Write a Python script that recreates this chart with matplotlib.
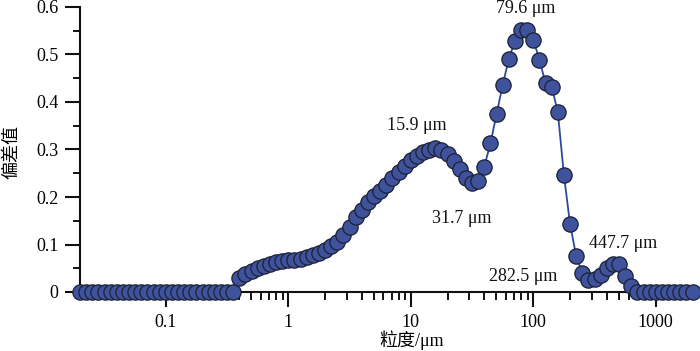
import numpy as np
import matplotlib
matplotlib.use("Agg")
import matplotlib.pyplot as plt
from matplotlib.ticker import LogLocator, MultipleLocator, FuncFormatter

plt.rcParams['font.family'] = ['Liberation Serif', 'Noto Sans CJK SC', 'DejaVu Sans']

# particle size classes (um), instrument grid 0.02 - 2000 um
sizes = [0.02, 0.02244, 0.02518, 0.02825, 0.03170, 0.03557, 0.03991, 0.04477,
         0.05024, 0.05637, 0.06325, 0.07096, 0.07962, 0.08934, 0.1002, 0.1125,
         0.1262, 0.1416, 0.1589, 0.1783, 0.2000, 0.2244, 0.2518, 0.2825, 0.3170,
         0.3557, 0.3991, 0.4477, 0.5024, 0.5637, 0.6325, 0.7096, 0.7962, 0.8934,
         1.002, 1.125, 1.262, 1.416, 1.589, 1.783, 2.000, 2.244, 2.518, 2.825,
         3.170, 3.557, 3.991, 4.477, 5.024, 5.637, 6.325, 7.096, 7.962, 8.934,
         10.02, 11.25, 12.62, 14.16, 15.89, 17.83, 20.00, 22.44, 25.18, 28.25,
         31.70, 35.57, 39.91, 44.77, 50.24, 56.37, 63.25, 70.96, 79.62, 89.34,
         100.2, 112.5, 126.2, 141.6, 158.9, 178.3, 200.0, 224.4, 251.8, 282.5,
         317.0, 355.7, 399.1, 447.7, 502.4, 563.7, 632.5, 709.6, 796.2, 893.4,
         1002, 1125, 1262, 1416, 1589, 1783, 2000]

# 偏差值
values = [0.0] * 26 + [
    0.029, 0.038, 0.045, 0.050, 0.055, 0.059, 0.063, 0.066, 0.067, 0.068,
    0.070, 0.073, 0.077, 0.082, 0.088, 0.096, 0.106, 0.119, 0.136, 0.158,
    0.173, 0.189, 0.202, 0.213, 0.226, 0.240, 0.252, 0.265, 0.277, 0.287,
    0.295, 0.300, 0.303, 0.300, 0.291, 0.276, 0.260, 0.241, 0.229, 0.234,
    0.264, 0.313, 0.374, 0.436, 0.490, 0.529, 0.552, 0.552, 0.531, 0.489,
    0.439, 0.432, 0.379, 0.246, 0.143, 0.076, 0.040, 0.025, 0.027, 0.036,
    0.050, 0.060, 0.059, 0.034, 0.013] + [0.0] * 10

# labelled extrema: size label, index of the point, text offset (pixels)
peak_labels = ["79.6 μm", "15.9 μm", "31.7 μm", "282.5 μm", "447.7 μm"]
peak_idx = [72, 58, 64, 83, 87]
peak_offsets = [(5, 21), (-18, 23), (-10, -35), (-65, 4), (10, 20)]

fig = plt.figure(figsize=(7.0, 3.51), dpi=100)
ax = fig.add_axes([80 / 700, 59 / 351, 620 / 700, 285 / 351])

ax.plot(sizes, values, '-o', color='#2c4a9e', lw=1.3,
        mfc='#3e539b', mec='#1c2035', ms=11, mew=0.9,
        clip_on=False, zorder=3)

ax.set_xscale('log')
ax.set_xlim(0.02, 2300)
ax.set_ylim(0, 0.6)

ax.yaxis.set_major_locator(MultipleLocator(0.1))
ax.yaxis.set_minor_locator(MultipleLocator(0.05))
ax.yaxis.set_major_formatter(FuncFormatter(lambda v, p: '%g' % round(v, 2)))
ax.xaxis.set_major_locator(LogLocator(base=10))
ax.xaxis.set_minor_locator(LogLocator(base=10, subs=np.arange(2, 10)))
ax.xaxis.set_major_formatter(FuncFormatter(lambda v, p: '%g' % v))

for s in ['top', 'right']:
    ax.spines[s].set_visible(False)
for s in ['left', 'bottom']:
    ax.spines[s].set_linewidth(1.5)
    ax.spines[s].set_color('#111111')

ax.tick_params(which='major', direction='out', length=10.5, width=1.5,
               labelsize=13, color='#111111', pad=5)
ax.tick_params(axis='x', which='minor', direction='out', length=6, width=1.3)
ax.tick_params(axis='y', which='minor', direction='out', length=5, width=1.3)

xl = ax.set_xlabel('粒度/μm', fontsize=13)
yl = ax.set_ylabel('偏差值', fontsize=13)
xl.set_va('center')
yl.set_va('center')
ax.xaxis.set_label_coords(0.535, -0.168)
ax.yaxis.set_label_coords(-0.11, 0.49)

for lab, i, off in zip(peak_labels, peak_idx, peak_offsets):
    ax.annotate(lab, (sizes[i], values[i]), xytext=off,
                textcoords='offset pixels', ha='center', va='center',
                fontsize=13, color='#111111')

fig.savefig('out.png', dpi=100)
